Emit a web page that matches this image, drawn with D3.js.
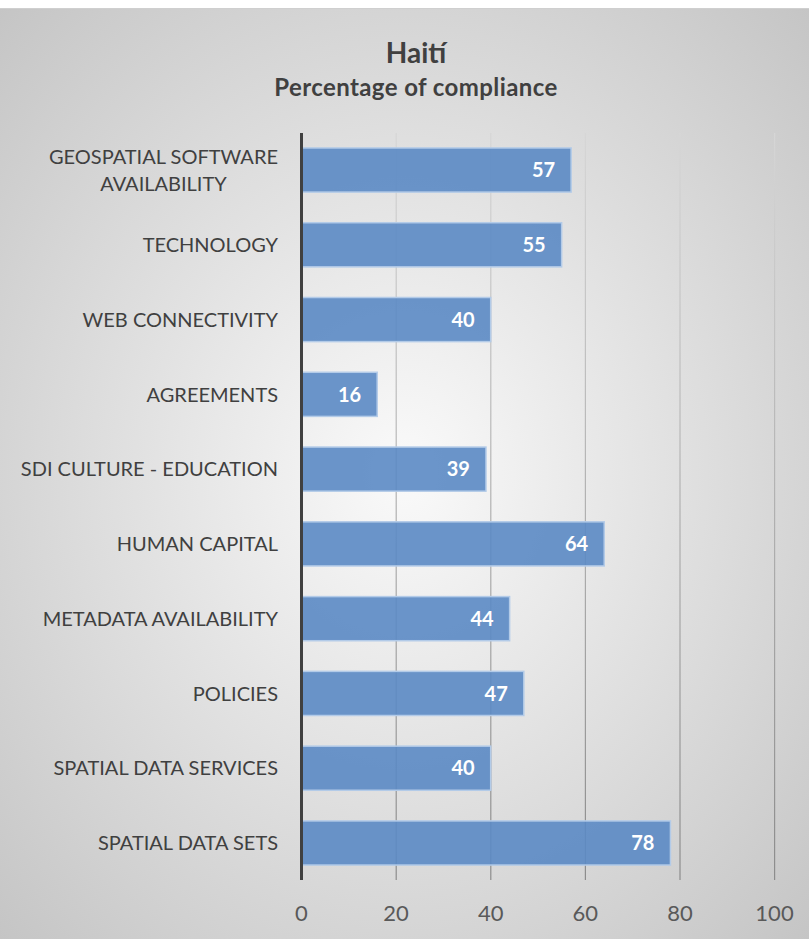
<!DOCTYPE html>
<html><head><meta charset="utf-8">
<script src="https://cdn.jsdelivr.net/npm/d3@7"></script>
<style>body{margin:0;background:#fff}svg{display:block}</style>
</head><body>
<script>
const categories = ["GEOSPATIAL SOFTWARE AVAILABILITY","TECHNOLOGY","WEB CONNECTIVITY","AGREEMENTS","SDI CULTURE - EDUCATION","HUMAN CAPITAL","METADATA AVAILABILITY","POLICIES","SPATIAL DATA SERVICES","SPATIAL DATA SETS"];
const values = [57,55,40,16,39,64,44,47,40,78];
const ticks = [0,20,40,60,80,100];
const title = "Haití";
const subtitle = "Percentage of compliance";

const W=809,H=939;
const svg=d3.select("body").append("svg").attr("width",W).attr("height",H);
const defs=svg.append("defs");
const rg=defs.append("radialGradient").attr("id","bg").attr("cx","50%").attr("cy","50%").attr("r","72%");
rg.append("stop").attr("offset","0%").attr("stop-color","#fafafa");
rg.append("stop").attr("offset","100%").attr("stop-color","#c4c4c4");
const gl=defs.append("linearGradient").attr("id","grid").attr("x1",0).attr("y1",0).attr("x2",0).attr("y2",1);
gl.append("stop").attr("offset","0%").attr("stop-color","#d6d6d6");
gl.append("stop").attr("offset","100%").attr("stop-color","#8c8c8c");

svg.append("rect").attr("x",0).attr("y",8).attr("width",W).attr("height",H-8).attr("fill","url(#bg)");
svg.append("line").attr("x1",0).attr("x2",W).attr("y1",8.5).attr("y2",8.5).attr("stroke","#cfcfcf");

const font="Lato, 'Open Sans', sans-serif";
const m={top:133,bottom:880,left:301.5,right:774.5};
const x=d3.scaleLinear().domain([0,100]).range([m.left,m.right]);
const y=d3.scaleBand().domain(categories).range([m.top,m.bottom]).paddingInner(0.41).paddingOuter(0.2);

// gridlines
svg.append("g").selectAll("rect").data(ticks.filter(t=>t>0)).join("rect")
 .attr("x",d=>x(d)-0.5).attr("width",1.2).attr("y",m.top).attr("height",m.bottom-m.top)
 .attr("fill","url(#grid)");

// bars
svg.append("g").selectAll("rect").data(values).join("rect")
 .attr("x",x(0)).attr("y",(d,i)=>y(categories[i]))
 .attr("width",d=>x(d)-x(0)).attr("height",y.bandwidth())
 .attr("fill","#5b8ac4").attr("fill-opacity",0.9)
 .attr("stroke","#b3cbe8").attr("stroke-width",1.5);

// value labels
svg.append("g").selectAll("text").data(values).join("text")
 .attr("x",d=>x(d)-16).attr("y",(d,i)=>y(categories[i])+y.bandwidth()/2)
 .attr("dy","0.36em").attr("text-anchor","end")
 .attr("fill","#fff").attr("font-weight","bold").attr("font-size",20).attr("font-family",font)
 .text(d=>d);

// axis line
svg.append("line").attr("x1",x(0)).attr("x2",x(0)).attr("y1",m.top).attr("y2",m.bottom)
 .attr("stroke","#404040").attr("stroke-width",3);

// category labels
const cl=svg.append("g").selectAll("text").data(categories).join("text")
 .attr("fill","#404040").attr("font-size",20).attr("font-family",font)
 .attr("y",d=>y(d)+y.bandwidth()/2);
cl.each(function(d){
  const t=d3.select(this);
  const lines = d==="GEOSPATIAL SOFTWARE AVAILABILITY" ? ["GEOSPATIAL SOFTWARE","AVAILABILITY"] : [d];
  if(lines.length===1){
    t.attr("text-anchor","end").append("tspan").attr("x",278).attr("dy","0.36em").text(lines[0]);
  } else {
    const tmp=t.append("tspan").text(lines[0]);
    const w=tmp.node().getComputedTextLength();
    tmp.remove();
    const cx=278-w/2;
    t.attr("text-anchor","middle");
    lines.forEach((l,i)=>{
      t.append("tspan").attr("x",cx).attr("dy", i===0? "-0.3em":"1.35em").text(l);
    });
  }
});

// tick labels
svg.append("g").selectAll("text").data(ticks).join("text")
 .attr("x",d=>x(d)).attr("y",913).attr("dy","0.36em").attr("text-anchor","middle")
 .attr("fill","#595959").attr("font-size",22).attr("font-family",font).text(d=>d);

svg.append("text").attr("x",416).attr("y",63).attr("text-anchor","middle").attr("font-weight","bold")
 .attr("font-size",28).attr("fill","#404040").attr("font-family",font).text(title);
svg.append("text").attr("x",416).attr("y",96).attr("text-anchor","middle").attr("font-weight","bold")
 .attr("font-size",24).attr("letter-spacing",0.4).attr("fill","#404040").attr("font-family",font).text(subtitle);
</script>
</body></html>
